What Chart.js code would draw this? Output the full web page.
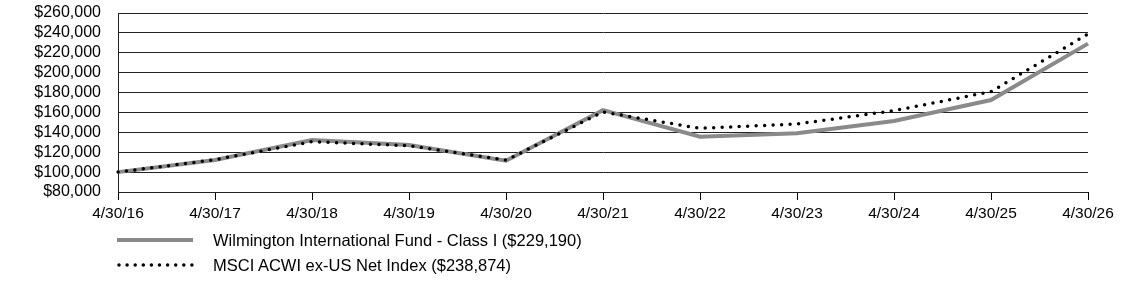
<!DOCTYPE html>
<html>
<head>
<meta charset="utf-8">
<script src="https://cdn.jsdelivr.net/npm/chart.js@4"></script>
<style>
  html, body { margin: 0; padding: 0; background: #fff; }
  #wrap { position: relative; width: 1123px; height: 281px; }
  #grafico { position: absolute; left: 0; top: 0; }
  .leyenda { position: absolute; left: 0; font: 16.5px "Liberation Sans", Arial, sans-serif; color: #000; white-space: nowrap; }
  .leyenda svg { position: absolute; left: 116px; top: 0; }
  .leyenda span { position: absolute; left: 213px; top: 0; line-height: 18px; }
</style>
</head>
<body>
<div id="wrap">
  <canvas id="grafico" width="1123" height="281"></canvas>
  <div class="leyenda" style="top:231px">
    <svg width="80" height="18"><line x1="1" y1="9" x2="77" y2="9" stroke="#8a8a8a" stroke-width="4"/></svg>
    <span>Wilmington International Fund - Class I ($229,190)</span>
  </div>
  <div class="leyenda" style="top:256px">
    <svg width="80" height="18"><line x1="3" y1="9" x2="76" y2="9" stroke="#000" stroke-width="3.5" stroke-linecap="round" stroke-dasharray="0 8.1"/></svg>
    <span>MSCI ACWI ex-US Net Index ($238,874)</span>
  </div>
</div>
<script>
// DATOS
const fechas = ['4/30/16', '4/30/17', '4/30/18', '4/30/19', '4/30/20', '4/30/21', '4/30/22', '4/30/23', '4/30/24', '4/30/25', '4/30/26'];
const fondo = [100000, 112200, 132300, 127300, 111500, 162300, 135600, 139000, 151400, 172500, 229190];
const indice = [100000, 112500, 130600, 126500, 112000, 160500, 144000, 148400, 161800, 180900, 238874];
const ticksY = [80000, 100000, 120000, 140000, 160000, 180000, 200000, 220000, 240000, 260000];
// ----------------

const fuente = { family: '"Liberation Sans", Arial, sans-serif', size: 16 };

const dataCrecimiento = {
    labels: fechas,
    datasets: [{
        label: 'Wilmington International Fund - Class I ($229,190)',
        data: fondo,
        borderColor: '#8a8a8a',
        borderWidth: 4,
        pointRadius: 0,
        tension: 0,
        order: 2
    }, {
        label: 'MSCI ACWI ex-US Net Index ($238,874)',
        data: indice,
        borderColor: '#000',
        borderWidth: 3.5,
        borderDash: [0, 8.5],
        borderCapStyle: 'round',
        pointRadius: 0,
        tension: 0,
        order: 1
    }]
};

const crecimiento = {
    type: 'line',
    data: dataCrecimiento,
    options: {
        responsive: false,
        animation: false,
        layout: { padding: { left: 0, right: 35, top: 13, bottom: 59 } },
        plugins: { legend: { display: false }, tooltip: { enabled: false } },
        scales: {
            x: {
                offset: false,
                grid: { drawOnChartArea: false, color: '#000', tickLength: 8, tickColor: '#000' },
                border: { display: false },
                ticks: { color: '#000', font: { family: fuente.family, size: 15.5 }, maxRotation: 0, autoSkip: false, padding: 4 },
                afterFit: (eje) => { eje.height = 30; eje.paddingLeft = 0; eje.paddingRight = 0; }
            },
            y: {
                min: 80000,
                max: 260000,
                afterBuildTicks: (eje) => { eje.ticks = ticksY.map(v => ({ value: v })); },
                grid: { color: '#222', lineWidth: 1, drawTicks: false },
                border: { display: true, color: '#222', width: 1 },
                ticks: {
                    color: '#000',
                    font: fuente,
                    padding: 17,
                    autoSkip: false,
                    callback: (valor) => '$' + valor.toLocaleString('en-US')
                },
                afterFit: (eje) => { eje.width = 118; eje.paddingTop = 0; eje.paddingBottom = 0; }
            }
        }
    }
};

const lienzo = document.getElementById('grafico');
const chartCrecimiento = new Chart(lienzo, crecimiento);
</script>
</body>
</html>
